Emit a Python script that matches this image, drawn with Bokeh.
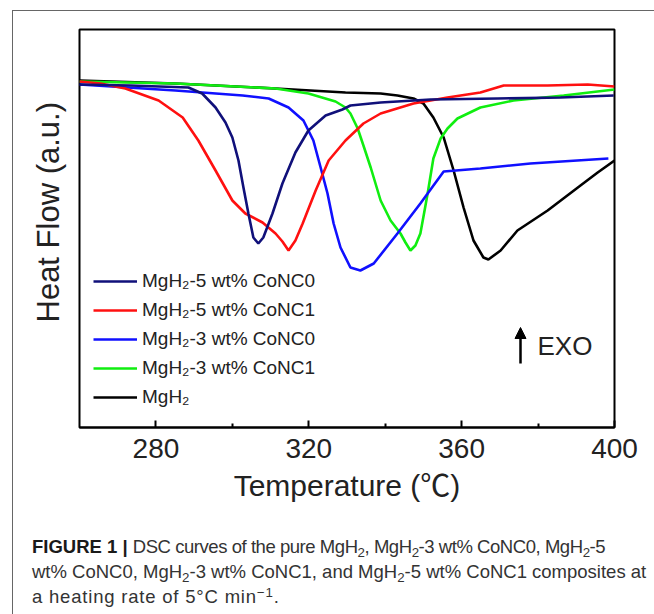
from bokeh.plotting import figure
from bokeh.layouts import column
from bokeh.models import Range1d, FixedTicker, Label, Arrow, NormalHead, Legend, LegendItem, Title, Div
from bokeh.embed import file_html
from bokeh.resources import INLINE

# ---- data (temperature in degC, heat flow in arbitrary units) ----
t_5c0 = [260.0, 273.3, 288.5, 292.1, 295.6, 298.2, 300.0, 301.6, 302.9, 304.2, 305.5, 306.8,
         308.1, 310.5, 313.1, 316.5, 319.9, 324.4, 328.8, 330.9, 338.8, 351.9, 369.4, 385.9, 399.8]
h_5c0 = [34.3, 34.2, 34.0, 33.4, 32.0, 30.5, 29.0, 26.7, 24.0, 21.4, 19.0, 18.4,
         19.0, 21.4, 24.4, 27.5, 29.7, 31.2, 31.8, 32.2, 32.5, 32.8, 32.9, 33.0, 33.2]

t_5c1 = [260.0, 265.5, 272.0, 280.7, 287.0, 291.1, 295.6, 300.0, 303.4, 307.9, 311.3, 313.1,
         314.7, 316.5, 318.4, 321.8, 325.2, 329.6, 334.3, 338.8, 347.4, 356.3, 364.9, 371.0,
         382.5, 393.0, 400.0]
h_5c1 = [34.6, 34.4, 33.9, 32.7, 31.0, 28.7, 25.7, 22.7, 21.4, 20.5, 19.4, 18.6,
         17.7, 18.7, 20.4, 23.7, 26.7, 28.7, 30.4, 31.4, 32.4, 33.0, 33.5, 34.2,
         34.2, 34.3, 34.1]

t_3c0 = [260.0, 285.1, 302.7, 309.5, 314.7, 318.6, 321.2, 323.1, 324.9, 326.5, 328.3, 330.9,
         333.5, 337.0, 343.2, 349.2, 355.3, 364.9, 378.0, 398.4]
h_3c0 = [34.3, 33.7, 33.2, 32.9, 32.0, 30.7, 28.7, 26.0, 23.4, 20.4, 18.0, 16.0,
         15.7, 16.4, 19.4, 22.4, 25.6, 25.9, 26.4, 26.9]

t_3c1 = [260.0, 285.1, 311.3, 319.9, 327.0, 329.6, 330.9, 332.8, 334.3, 336.2, 338.8, 341.4,
         344.0, 345.3, 346.6, 347.9, 349.2, 350.3, 351.1, 352.6, 354.5, 356.3, 358.9, 364.9,
         373.6, 386.7, 400.0]
h_3c1 = [34.6, 34.4, 33.9, 33.4, 32.6, 32.0, 31.4, 29.9, 28.2, 26.0, 22.7, 20.7,
         19.4, 18.5, 17.7, 18.2, 19.4, 21.7, 23.4, 26.9, 28.9, 29.9, 30.9, 32.0,
         32.7, 33.2, 33.8]

t_pure = [260.0, 285.1, 311.3, 329.6, 338.8, 343.2, 347.4, 350.0, 352.6, 355.3, 357.9, 360.5,
          363.1, 365.7, 367.0, 370.2, 374.6, 382.5, 391.1, 395.6, 400.0]
h_pure = [34.7, 34.4, 33.9, 33.5, 33.4, 33.2, 32.9, 32.4, 31.0, 29.0, 25.7, 22.0,
          18.7, 17.0, 16.8, 17.7, 19.7, 21.7, 24.2, 25.5, 26.7]

series_names = ["MgH\u2082-5 wt% CoNC0", "MgH\u2082-5 wt% CoNC1", "MgH\u2082-3 wt% CoNC0",
                "MgH\u2082-3 wt% CoNC1", "MgH\u2082"]
series_colors = ["#10107a", "#ff1010", "#1010ff", "#10ee10", "#000000"]
x_ticks = [280, 320, 360, 400]
x_minor = [300, 340, 380]

FONT = "Liberation Sans"
FONT_CJK = "Liberation Sans, Noto Sans CJK SC"

p = figure(width=641, height=518, output_backend="svg", toolbar_location=None,
           x_range=Range1d(260, 400), y_range=Range1d(0, 39.8),
           y_axis_location=None,
           min_border_left=66, min_border_right=40, min_border_top=18, min_border_bottom=102)
p.grid.visible = False
p.outline_line_color = "black"
p.outline_line_width = 2
p.outline_line_alpha = 1.0
p.background_fill_color = "white"
p.border_fill_color = "white"

ax = p.xaxis[0]
ax.ticker = FixedTicker(ticks=x_ticks, minor_ticks=x_minor)
ax.major_tick_in = 7
ax.major_tick_out = 0
ax.minor_tick_in = 4
ax.minor_tick_out = 0
ax.axis_line_width = 2
ax.major_tick_line_width = 2
ax.minor_tick_line_width = 2
ax.major_label_text_font = FONT
ax.major_label_text_font_size = "28px"
ax.major_label_text_color = "#222222"
ax.major_label_standoff = 11
ax.axis_label = "Temperature (\u2103)"
ax.axis_label_text_font = FONT_CJK
ax.axis_label_text_font_size = "30px"
ax.axis_label_text_font_style = "normal"
ax.axis_label_text_color = "#222222"
ax.axis_label_standoff = 8

# y axis title (no y ticks in the original)
p.add_layout(Title(text="Heat Flow (a.u.)", align="left", offset=105, standoff=26,
                   vertical_align="middle",
                   text_font=FONT, text_font_size="31px", text_font_style="normal",
                   text_color="#222222"), "left")

data = [(t_pure, h_pure, 4), (t_3c1, h_3c1, 3), (t_3c0, h_3c0, 2), (t_5c1, h_5c1, 1), (t_5c0, h_5c0, 0)]
renderers = {}
for t, h, i in data:
    renderers[i] = p.line(t, h, line_color=series_colors[i], line_width=2.6)

items = [LegendItem(label=series_names[i], renderers=[renderers[i]]) for i in range(5)]
legend = Legend(items=items, location=(14, 19), padding=0, margin=0, spacing=7,
                glyph_width=44, glyph_height=20, label_height=20, label_standoff=5,
                label_text_font=FONT, label_text_font_size="19px", label_text_color="#222222",
                border_line_color=None, background_fill_alpha=0)
p.add_layout(legend)

# EXO arrow and text (inside the plot frame)
p.add_layout(Arrow(end=NormalHead(size=11, fill_color="black", line_color="black"),
                   x_start=507, y_start=352, x_end=507, y_end=316,
                   start_units="canvas", end_units="canvas", line_width=2.5, line_color="black"))
p.add_layout(Label(x=524, y=334, x_units="canvas", y_units="canvas", text="EXO",
                   text_align="left", text_baseline="middle",
                   text_font=FONT, text_font_size="26px", text_color="#222222"))

SUB = '<span style="font-size:0.72em;position:relative;top:0.28em;">2</span>'
SUP = '<span style="font-size:0.72em;position:relative;top:-0.45em;">\u22121</span>'
caption_html = (
    '<div style="margin:1px 0 0 14px;font-family:\'Liberation Sans\',Arial,sans-serif;'
    'font-size:18.5px;line-height:23px;color:#333333;white-space:nowrap;">'
    '<b style="color:#1a1a1a;">FIGURE 1 |</b> <span style="letter-spacing:-0.45px;">'
    'DSC curves of the pure MgH' + SUB + ', MgH' + SUB +
    '-3 wt% CoNC0, MgH' + SUB + '-5</span><br>'
    'wt% CoNC0, MgH' + SUB + '-3 wt% CoNC1, and MgH' + SUB + '-5 wt% CoNC1 composites at<br>'
    '<span style="letter-spacing:0.8px;">a heating rate of 5\u00b0C min' + SUP + '.</span></div>'
)
cap = Div(text=caption_html, width=641, height=80)

layout = column(p, cap, spacing=0)
layout.styles = {"margin-left": "12px", "margin-top": "10px",
                 "border-top": "1px solid #666666", "border-left": "1px solid #666666"}

open("out.html", "w").write(file_html(layout, INLINE))
